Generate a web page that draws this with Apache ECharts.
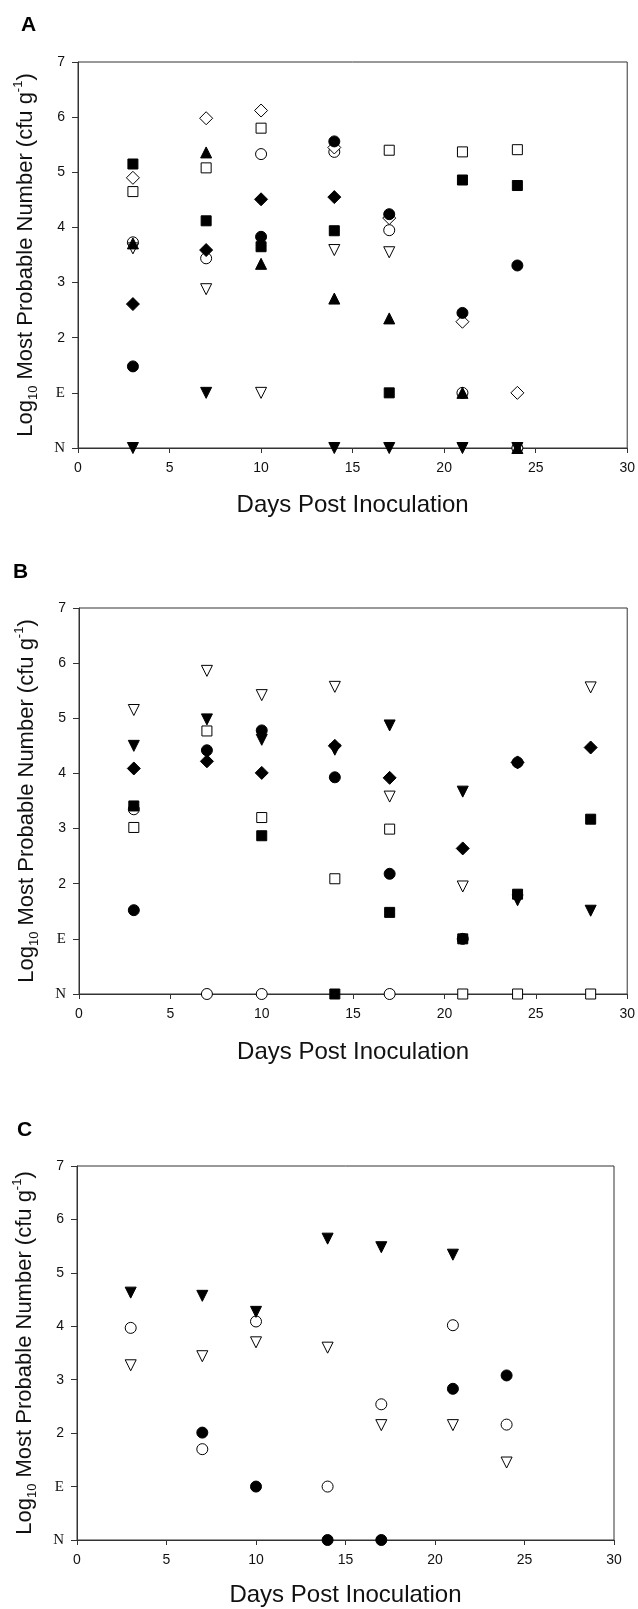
<!DOCTYPE html>
<html>
<head>
<meta charset="utf-8">
<script src="https://cdn.jsdelivr.net/npm/echarts@6/dist/echarts.min.js"></script>
<style>
html,body{margin:0;padding:0;background:#fff;}
#chart{width:638px;height:1609px;}
</style>
</head>
<body>
<div id="chart"></div>
<script>
// ---------- data ----------
const xTicks = [0, 5, 10, 15, 20, 25, 30];
const yTickLabels = ['N', 'E', '2', '3', '4', '5', '6', '7']; // N = 0, E = 1

// Panel A
const daysA = [3, 7, 10, 14, 17, 21, 24];
const A_openCircle    = [3.73, 3.44, 5.33, 5.37, 3.95, 1,    0];
const A_openSquare    = [4.65, 5.08, 5.80, null, 5.40, 5.37, 5.41];
const A_openDiamond   = [4.90, 5.98, 6.12, 5.45, 4.17, 2.29, 1];
const A_openTriDown   = [3.62, 2.88, 1,    3.59, 3.55, null, null];
const A_filledCircle  = [1.48, null, 3.83, 5.56, 4.24, 2.45, 3.31];
const A_filledSquare  = [5.15, 4.12, 3.65, 3.94, 1,    4.86, 4.76];
const A_filledDiamond = [2.61, 3.59, 4.51, 4.55, null, null, null];
const A_filledTriUp   = [3.71, 5.36, 3.34, 2.71, 2.35, 1,    0];
const A_filledTriDown = [0,    1,    null, 0,    0,    0,    0];

// Panel B
const daysB = [3, 7, 10, 14, 17, 21, 24, 28];
const B_openCircle    = [3.35, 0,    0,    null, 0,    null, null, null];
const B_openSquare    = [3.02, 4.77, 3.20, 2.09, 2.99, 0,    0,    0];
const B_openTriDown   = [5.15, 5.86, 5.42, 5.57, 3.58, 1.95, null, 5.56];
const B_filledCircle  = [1.52, 4.42, 4.78, 3.93, 2.18, 1,    4.20, null];
const B_filledSquare  = [3.41, null, 2.87, 0,    1.48, 1,    1.81, 3.17];
const B_filledDiamond = [4.09, 4.22, 4.01, 4.50, 3.92, 2.64, 4.20, 4.47];
const B_filledTriDown = [4.50, 4.98, 4.61, 4.43, 4.87, 3.67, 1.70, 1.51];

// Panel C
const daysC = [3, 7, 10, 14, 17, 21, 24];
const C_openCircle    = [3.97, 1.70, 4.09, 1,    2.54, 4.02, 2.16];
const C_openTriDown   = [3.27, 3.44, 3.70, 3.60, 2.15, 2.15, 1.45];
const C_filledCircle  = [null, 2.01, 1,    0,    0,    2.83, 3.08];
const C_filledTriDown = [4.63, 4.57, 4.27, 5.64, 5.48, 5.34, null];

// ---------- styling ----------
const SYM = {
  openCircle:    {symbol: 'circle',   size: 11, fill: '#fff', rotate: 0},
  openSquare:    {symbol: 'rect',     size: 10, fill: '#fff', rotate: 0},
  openDiamond:   {symbol: 'diamond',  size: 13, fill: '#fff', rotate: 0},
  openTriDown:   {symbol: 'triangle', size: 11, fill: '#fff', rotate: 180},
  filledCircle:  {symbol: 'circle',   size: 11, fill: '#000', rotate: 0},
  filledSquare:  {symbol: 'rect',     size: 10, fill: '#000', rotate: 0},
  filledDiamond: {symbol: 'diamond',  size: 13, fill: '#000', rotate: 0},
  filledTriUp:   {symbol: 'triangle', size: 11, fill: '#000', rotate: 0},
  filledTriDown: {symbol: 'triangle', size: 11, fill: '#000', rotate: 180}
};

const panels = [
  {days: daysA, series: {
    openCircle: A_openCircle, openSquare: A_openSquare, openDiamond: A_openDiamond, openTriDown: A_openTriDown,
    filledCircle: A_filledCircle, filledSquare: A_filledSquare, filledDiamond: A_filledDiamond,
    filledTriUp: A_filledTriUp, filledTriDown: A_filledTriDown}},
  {days: daysB, series: {
    openCircle: B_openCircle, openSquare: B_openSquare, openTriDown: B_openTriDown,
    filledCircle: B_filledCircle, filledSquare: B_filledSquare, filledDiamond: B_filledDiamond,
    filledTriDown: B_filledTriDown}},
  {days: daysC, series: {
    openCircle: C_openCircle, openTriDown: C_openTriDown,
    filledCircle: C_filledCircle, filledTriDown: C_filledTriDown}}
];

const grids = [
  {left: 78, top: 62,   width: 550, height: 386},
  {left: 79, top: 608,  width: 549, height: 386},
  {left: 77, top: 1166, width: 537, height: 374}
];
const xNameGaps = [45, 46, 43];
const yNameGaps = [38, 38, 38];
const LINE = '#333';
const SANS = 'Liberation Sans, Arial, sans-serif';

const option = {
  animation: false,
  backgroundColor: '#fff',
  grid: grids.map(g => Object.assign({show: true, borderColor: LINE, borderWidth: 1, backgroundColor: 'transparent', containLabel: false}, g)),
  xAxis: grids.map((g, i) => ({
    gridIndex: i, type: 'value', min: xTicks[0], max: xTicks[xTicks.length - 1], interval: xTicks[1] - xTicks[0],
    axisLine: {show: true, lineStyle: {color: LINE, width: 1}},
    axisTick: {show: true, inside: false, length: 5, lineStyle: {color: LINE}},
    axisLabel: {fontFamily: SANS, fontSize: 14, color: '#111', margin: 13},
    splitLine: {show: false},
    name: 'Days Post Inoculation', nameLocation: 'middle', nameGap: xNameGaps[i],
    nameTextStyle: {fontFamily: SANS, fontSize: 24, color: '#111'}
  })),
  yAxis: grids.map((g, i) => ({
    gridIndex: i, type: 'value', min: 0, max: yTickLabels.length - 1, interval: 1,
    axisLine: {show: true, lineStyle: {color: LINE, width: 1}},
    axisTick: {show: true, inside: false, length: 6, lineStyle: {color: LINE}},
    axisLabel: {
      fontFamily: SANS, fontSize: 14, color: '#111', margin: 13,
      formatter: v => {
        const t = yTickLabels[v];
        return (t === 'N' || t === 'E') ? '{s|' + t + '}' : t;
      },
      rich: {s: {fontFamily: 'Liberation Serif, Times New Roman, serif', fontSize: 15, color: '#111'}}
    },
    splitLine: {show: false},
    name: 'Log{sub|10} Most Probable Number (cfu g{sup|-1})',
    nameLocation: 'middle', nameGap: yNameGaps[i], nameRotate: 90,
    nameTextStyle: {
      fontFamily: SANS, fontSize: 22, color: '#111', lineHeight: 28,
      rich: {
        sub: {fontFamily: SANS, fontSize: 13, color: '#111', verticalAlign: 'bottom', lineHeight: 13},
        sup: {fontFamily: SANS, fontSize: 13, color: '#111', verticalAlign: 'top', lineHeight: 13}
      }
    }
  })),
  graphic: [
    {type: 'text', left: 21, top: 15, style: {text: 'A', fontFamily: SANS, fontWeight: 'bold', fontSize: 21, fill: '#000'}},
    {type: 'text', left: 13, top: 562, style: {text: 'B', fontFamily: SANS, fontWeight: 'bold', fontSize: 21, fill: '#000'}},
    {type: 'text', left: 17, top: 1120, style: {text: 'C', fontFamily: SANS, fontWeight: 'bold', fontSize: 21, fill: '#000'}}
  ],
  series: []
};

const order = ['openCircle', 'openSquare', 'openDiamond', 'openTriDown',
               'filledCircle', 'filledSquare', 'filledDiamond', 'filledTriUp', 'filledTriDown'];
panels.forEach((p, pi) => {
  order.forEach(key => {
    const vals = p.series[key];
    if (!vals) return;
    const data = [];
    vals.forEach((v, k) => { if (v !== null) data.push([p.days[k], v]); });
    if (!data.length) return;
    const s = SYM[key];
    option.series.push({
      type: 'scatter', name: key, xAxisIndex: pi, yAxisIndex: pi,
      data: data, symbol: s.symbol, symbolSize: s.size, symbolRotate: s.rotate,
      itemStyle: {color: s.fill, borderColor: '#000', borderWidth: 1, opacity: 1},
      silent: true, clip: false
    });
  });
});

const chart = echarts.init(document.getElementById('chart'), null, {renderer: 'canvas'});
chart.setOption(option);
</script>
</body>
</html>
